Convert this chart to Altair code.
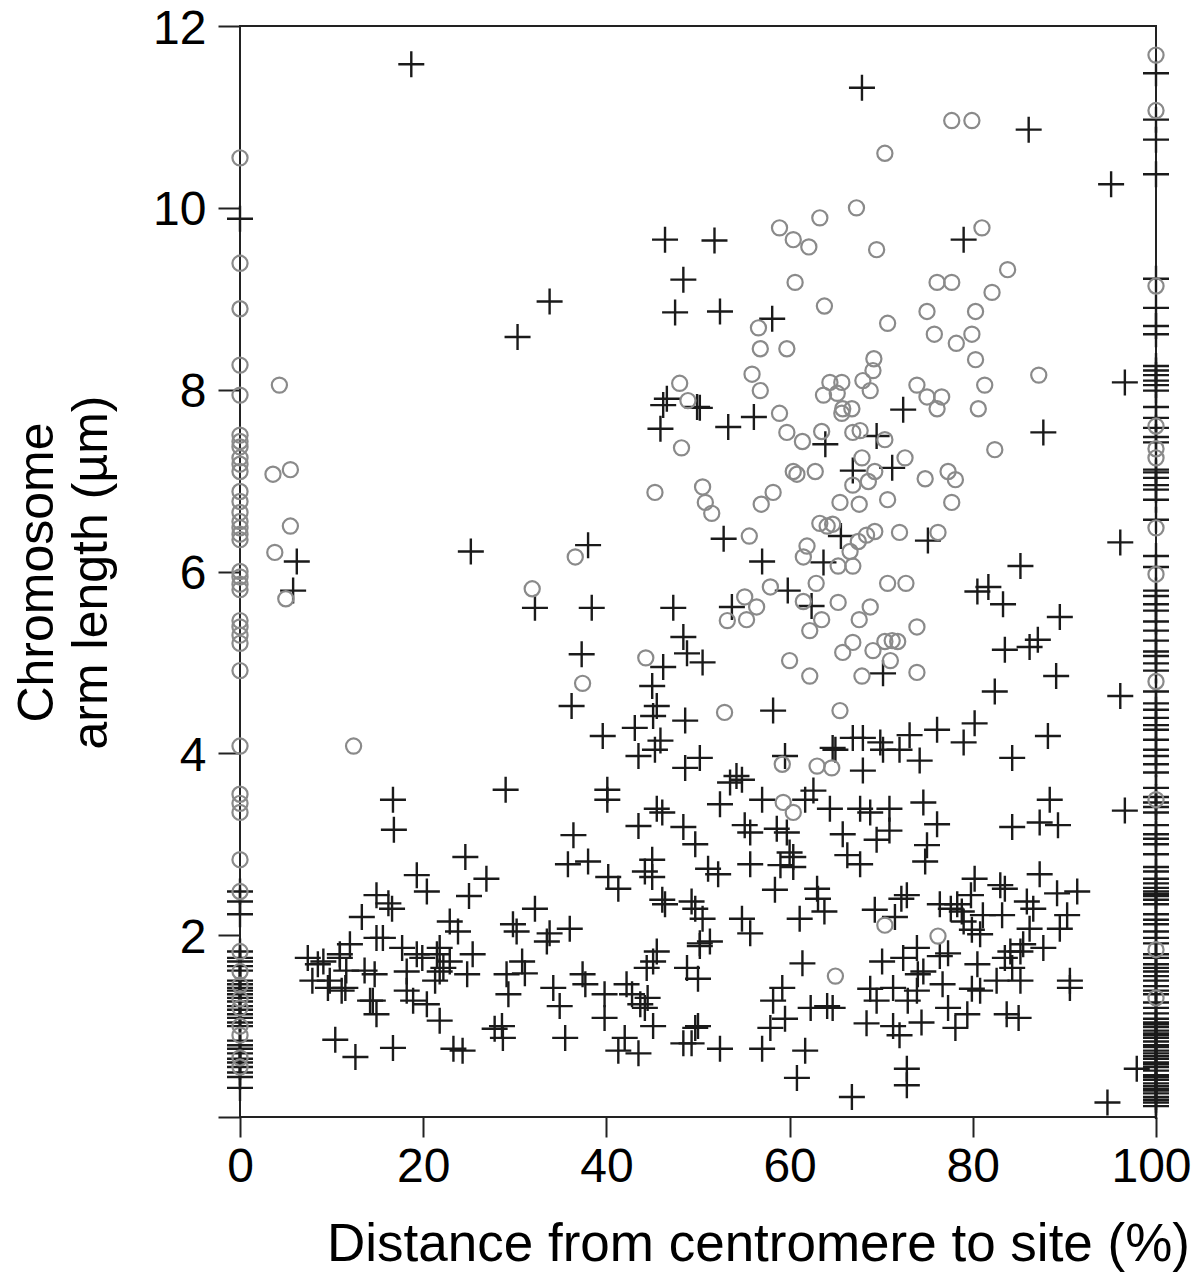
import altair as alt
import pandas as pd

# ---- crosses scattered inside the plot (x %, y µm)
cross_x = [18.7,46.4,48.4,47.5,33.8,30.3,67.9,86.1,95.1,51.8,79.0,52.4,58.1,96.6,
           6.2,5.8,25.2,38.0,32.2,38.4,47.3,37.3,36.2,46.2,48.4,48.8,45.0,45.5,45.1,43.1,39.6,48.6,45.9,46.2,46.6,45.9,49.9,
           50.2,53.3,56.1,72.4,63.9,69.5,66.9,71.2,87.7,52.8,57.0,65.6,75.1,63.7,96.1,59.8,53.7,62.4,85.2,80.5,81.7,83.3,89.5,
           83.5,86.2,87.1,89.1,82.4,96.1,50.5,58.2,70.2,80.2,76.1,73.1,66.9,68.0,69.9,88.2,79.0,64.7,
           16.7,16.8,29.0,24.6,19.3,20.4,26.9,25.0,14.9,16.2,16.6,13.3,22.9,23.8,14.9,15.6,12.0,17.7,19.3,21.8,25.4,7.4,9.1,10.9,
           7.9,9.8,11.6,13.6,14.7,11.1,11.5,14.5,14.9,18.2,18.9,19.9,21.5,22.2,22.9,24.8,21.3,20.4,21.8,10.4,12.6,16.7,23.3,24.3,
           36.4,40.1,40.1,43.5,45.3,48.6,45.5,46.1,43.5,48.4,49.7,35.8,38.0,40.2,41.3,45.0,44.2,45.0,46.1,46.4,49.3,49.7,32.2,
           29.8,30.2,33.8,33.5,36.0,45.5,45.1,44.4,48.8,50.2,30.8,31.1,29.1,29.3,34.2,34.9,37.4,37.7,39.8,42.2,42.8,43.7,44.2,
           45.1,39.8,35.5,42.0,41.3,43.5,48.4,49.3,49.7,27.8,28.6,28.7,44.5,8.5,9.6,14.2,18.2,21.8,10.9,
           50.2,54.2,53.5,54.8,52.4,57.0,55.1,55.7,58.6,59.7,60.0,55.7,59.0,60.4,58.4,60.4,52.2,51.1,50.5,51.3,50.2,54.8,55.7,
           59.5,65.0,62.6,64.4,61.7,68.0,70.2,72.0,74.2,84.3,67.7,68.8,70.9,65.8,69.5,70.9,66.3,67.7,74.6,76.1,75.0,74.8,88.4,
           96.6,84.3,87.3,89.3,63.0,63.1,63.8,61.1,61.4,59.2,58.2,57.9,57.0,61.7,60.8,66.8,72.8,72.8,59.5,62.3,64.1,64.7,50.0,
           50.0,52.4,69.3,71.5,72.8,72.2,70.1,69.5,68.4,71.3,72.0,74.4,72.4,73.9,74.0,71.3,73.9,74.6,76.7,76.4,77.3,78.1,79.4,
           79.9,80.8,80.5,77.3,76.4,77.6,78.3,78.8,79.0,79.9,80.8,80.2,81.1,83.0,83.5,83.2,87.3,89.2,91.4,85.9,86.6,90.3,89.5,
           86.2,85.5,85.2,84.1,83.5,84.3,85.2,87.7,90.6,82.6,79.8,72.9,94.7,97.9,90.6,85.0,83.7,68.8]
cross_y = [11.58,9.65,9.21,8.85,8.97,8.58,11.32,10.86,10.26,9.64,9.65,8.86,8.78,8.08,
           6.11,5.79,6.22,6.29,5.60,5.60,5.60,5.09,4.52,4.95,5.28,5.10,4.74,4.52,4.41,4.28,4.19,4.36,4.14,7.83,7.90,7.57,7.81,
           7.80,7.59,7.70,7.78,7.40,7.49,7.11,7.14,7.53,6.36,6.11,6.39,6.34,6.10,6.32,5.79,5.61,5.62,6.06,5.78,5.83,5.64,5.50,
           5.14,5.17,5.25,4.85,4.68,4.63,5.00,4.47,4.88,4.33,4.26,4.20,4.17,4.17,4.12,4.19,4.12,4.06,
           3.49,3.16,3.60,2.86,2.66,2.48,2.62,2.43,2.44,2.35,2.29,2.20,2.15,2.04,1.97,1.97,1.90,1.86,1.79,1.86,1.79,1.75,1.71,1.75,
           1.50,1.50,1.61,1.61,1.57,1.39,1.42,1.28,1.13,1.39,1.28,1.75,1.79,1.64,1.71,1.57,1.50,1.24,1.06,0.85,0.66,0.76,0.75,0.73,
           3.10,3.60,3.49,3.97,4.04,3.84,3.39,3.35,3.20,3.19,3.00,2.78,2.81,2.64,2.51,2.83,2.70,2.64,2.39,2.34,2.37,2.29,2.29,
           2.12,2.04,2.02,1.93,2.07,1.82,1.71,1.64,1.64,1.88,1.71,1.58,1.57,1.35,1.42,1.22,1.57,1.46,1.35,1.46,1.35,1.24,1.20,
           1.00,1.09,0.87,0.87,0.73,0.70,0.81,0.81,0.98,0.97,1.00,0.87,1.31,1.68,1.42,1.28,1.60,1.60,1.79,
           3.95,3.75,3.68,3.71,3.44,3.49,3.21,3.13,3.17,3.13,2.91,2.78,2.77,2.86,2.50,2.75,2.67,2.73,2.18,1.93,1.91,2.18,2.02,
           3.97,4.04,3.59,3.39,3.49,3.81,4.04,4.04,3.92,3.95,3.39,3.35,3.39,3.11,3.05,3.15,2.88,2.78,3.46,3.22,2.99,2.81,3.49,
           3.37,3.19,3.24,3.21,2.51,2.40,2.26,2.18,1.69,1.42,1.28,0.98,0.75,0.73,0.43,0.22,0.53,0.35,1.08,1.20,1.22,1.20,1.00,
           1.52,0.75,2.28,2.20,2.44,2.40,1.71,1.28,1.03,1.00,0.90,1.04,1.75,1.86,1.57,1.42,1.39,1.60,1.46,1.77,1.20,0.98,1.13,
           1.41,1.39,1.68,1.80,2.34,2.29,2.34,2.26,2.15,2.06,2.01,2.62,2.22,2.55,2.51,2.22,2.67,2.46,2.48,2.37,2.29,2.22,2.07,
           2.07,1.90,1.82,1.82,1.75,1.64,1.50,1.86,1.42,1.50,2.44,1.28,0.16,0.53,1.50,1.09,1.13,1.41]

# ---- crosses sitting on the 0 % and 100 % borders
cross_y_at_0 = [9.88,2.48,2.37,2.23,1.82,1.75,1.71,1.66,1.61,1.50,1.46,1.42,1.39,1.35,1.31,1.27,1.22,1.18,1.13,
                1.09,1.04,1.00,0.84,0.79,0.75,0.70,0.64,0.60,0.55,0.49,0.44,0.32]
cross_y_at_100 = [11.48,10.97,10.75,10.37,9.22,8.90,8.70,8.61,8.26,8.21,8.16,8.10,8.05,7.99,7.81,7.69,7.58,7.48,7.42,
                  7.12,7.09,7.03,6.95,6.90,6.79,6.57,6.17,6.05,5.79,5.73,5.64,5.57,5.45,5.35,5.24,5.12,5.07,4.99,4.91,
                  4.68,4.55,4.48,4.39,4.31,4.26,4.15,4.04,3.97,3.88,3.79,3.62,3.52,3.46,3.41,3.35,3.21,3.11,3.06,3.00,
                  2.89,2.75,2.70,2.62,2.57,2.52,2.48,2.45,2.43,2.39,2.34,2.23,2.17,2.12,2.04,1.97,1.91,1.79,1.75,1.68,
                  1.64,1.60,1.55,1.50,1.44,1.39,1.35,1.26,1.20,1.14,1.08,1.04,1.02,0.99,0.95,0.92,0.90,0.87,0.83,0.79,
                  0.77,0.73,0.70,0.67,0.64,0.60,0.58,0.55,0.51,0.46,0.44,0.41,0.37,0.34,0.31,0.29,0.26,0.22,0.19,0.16,0.12]

# ---- open circles inside the plot
circle_x = [4.3,48.0,77.7,79.9,70.4,67.3,63.3,58.9,60.4,62.1,69.5,81.0,83.8,60.6,76.1,77.7,82.1,63.8,75.0,80.3,70.7,56.6,
            75.8,79.9,78.2,56.8,59.7,80.3,69.2,55.9,87.2,69.1,
            3.6,5.5,5.5,3.8,5.0,36.6,31.9,37.4,44.3,12.4,48.9,48.2,45.3,
            56.8,64.4,65.7,63.7,65.2,68.0,68.8,73.9,75.0,76.6,76.1,81.3,80.6,58.9,65.8,66.8,65.7,59.7,61.4,63.5,66.9,67.7,
            70.4,82.4,72.6,67.9,69.3,68.6,66.9,60.4,60.8,62.8,74.8,77.3,78.1,50.5,50.8,51.5,56.9,58.2,65.5,67.6,70.7,77.7,
            55.6,61.9,61.5,63.3,64.1,64.7,66.6,67.5,68.4,69.3,72.0,76.2,65.3,66.9,62.9,70.7,72.7,57.9,55.1,56.4,53.2,55.3,
            61.5,63.5,65.3,62.2,67.6,68.8,73.9,65.8,66.9,69.1,70.4,71.2,71.8,71.0,60.0,62.2,67.9,73.9,52.9,65.5,
            59.2,63.0,64.6,59.3,60.4,70.4,76.2,65.0]
circle_y = [8.05,8.07,10.96,10.96,10.60,10.00,9.89,9.78,9.65,9.57,9.54,9.78,9.32,9.18,9.18,9.18,9.07,8.92,8.86,8.86,8.73,8.68,
            8.61,8.61,8.51,8.45,8.45,8.33,8.34,8.17,8.16,8.21,
            7.07,7.12,6.50,6.21,5.70,6.16,5.81,4.77,5.05,4.08,7.88,7.36,6.87,
            7.99,8.08,8.08,7.94,7.96,8.10,7.99,8.05,7.92,7.92,7.79,8.05,7.79,7.74,7.79,7.79,7.74,7.53,7.43,7.54,7.53,7.55,
            7.45,7.34,7.25,7.25,7.10,6.99,6.95,7.10,7.07,7.10,7.02,7.10,7.01,6.93,6.76,6.64,6.74,6.87,6.76,6.74,6.79,6.76,
            6.39,6.28,6.16,6.53,6.50,6.52,6.22,6.33,6.40,6.44,6.43,6.43,6.06,6.06,5.87,5.87,5.87,5.83,5.72,5.61,5.46,5.47,
            5.67,5.47,5.66,5.35,5.47,5.61,5.39,5.11,5.22,5.13,5.23,5.24,5.23,5.02,5.02,4.85,4.85,4.89,4.45,4.47,
            3.88,3.86,3.84,3.46,3.35,2.11,1.99,1.55]

# ---- open circles on the borders
circle_y_at_0 = [10.55,9.39,8.89,8.27,7.94,7.50,7.43,7.37,7.25,7.18,7.10,6.88,6.77,6.65,6.55,6.48,6.41,6.35,6.00,5.94,
                 5.86,5.80,5.46,5.39,5.30,5.21,4.91,4.08,3.55,3.45,3.35,2.83,2.48,1.82,1.60,1.45,1.30,1.20,1.00,0.90,
                 0.65,0.55]
circle_y_at_100 = [11.68,11.07,9.14,7.60,7.35,7.25,6.48,5.97,4.79,3.49,1.84,1.31]

x_ticks = [0, 20, 40, 60, 80, 100]
y_ticks = [0, 2, 4, 6, 8, 10, 12]

crosses = pd.DataFrame({
    "x": cross_x + [0.0] * len(cross_y_at_0) + [100.0] * len(cross_y_at_100),
    "y": cross_y + cross_y_at_0 + cross_y_at_100,
})
circles = pd.DataFrame({
    "x": circle_x + [0.0] * len(circle_y_at_0) + [100.0] * len(circle_y_at_100),
    "y": circle_y + circle_y_at_0 + circle_y_at_100,
})

FONT = "Liberation Sans"
LINE = "#222222"

xenc = alt.X("x:Q", scale=alt.Scale(domain=[0, 100], nice=False, zero=False),
             axis=alt.Axis(values=x_ticks, format="d", title="Distance from centromere to site (%)",
                           tickSize=20, tickWidth=2, tickColor=LINE, domain=False, grid=False,
                           labelFontSize=48, labelFont=FONT, labelColor="black", labelPadding=6,
                           labelFlush=False, labelOverlap=False,
                           labelOffset={"condition": {"test": "datum.value == 100", "value": -5}, "value": 0},
                           titleFontSize=53, titleFont=FONT, titleFontWeight="normal", titleColor="black",
                           titleX=518, titleY=143, titleAlign="center", titleBaseline="alphabetic"))
yenc = alt.Y("y:Q", scale=alt.Scale(domain=[0, 12], nice=False, zero=False),
             axis=alt.Axis(values=y_ticks, format="d", title=["Chromosome", "arm length (µm)"],
                           labelExpr="datum.value == 0 ? '' : datum.label",
                           tickSize=22, tickWidth=2, tickColor=LINE, domain=False, grid=False,
                           labelFontSize=48, labelFont=FONT, labelColor="black", labelPadding=12,
                           labelFlush=False, labelOverlap=False, labelBaseline="alphabetic", labelOffset=17,
                           titleFontSize=50, titleFont=FONT, titleFontWeight="normal", titleColor="black",
                           titleAngle=270, titleX=-188, titleY=546, titleAlign="center",
                           titleBaseline="alphabetic", titleLineHeight=54))

cross_layer = alt.Chart(crosses).mark_point(
    shape="M-1,0L1,0M0,-1L0,1", size=676, filled=False, stroke="#1a1a1a",
    strokeWidth=2.4, opacity=1
).encode(x=xenc, y=yenc)

circle_layer = alt.Chart(circles).mark_point(
    shape="circle", size=230, filled=False, stroke="#8a8a8a", strokeWidth=2.2, opacity=1
).encode(x="x:Q", y="y:Q")

chart = alt.layer(cross_layer, circle_layer).properties(
    width=916, height=1091,
    autosize=alt.AutoSizeParams(type="none"),
    padding={"left": 232, "top": 18, "right": 36, "bottom": 160},
).configure(background="white").configure_view(stroke=LINE, strokeWidth=2)

chart.save("out.html", embed_options={"renderer": "svg", "actions": False})
